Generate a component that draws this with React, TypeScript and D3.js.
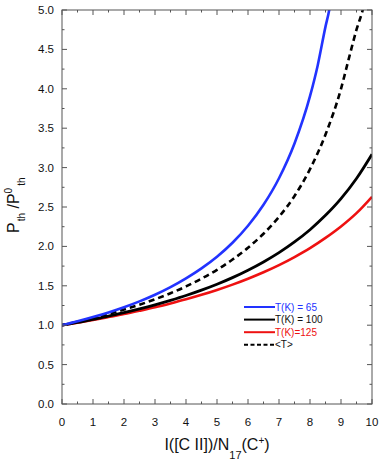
import * as d3 from 'd3';

// values
const XS = [0, 0.5, 1, 1.5, 2, 2.5, 3, 3.5, 4, 4.5, 5, 5.5, 6, 6.5, 7, 7.5, 8, 8.5, 9, 9.5, 10];
const T65 = [1.0, 1.049, 1.103, 1.162, 1.228, 1.302, 1.386, 1.483, 1.594, 1.721, 1.869, 2.046, 2.262, 2.528, 2.865, 3.306, 3.906, 4.789];
const T65_TAIL_X = [8.25, 8.5, 8.62, 8.75];
const T65_TAIL = [4.3, 4.789, 5.0, 5.35];
const T100 = [1.0, 1.035, 1.074, 1.114, 1.159, 1.207, 1.259, 1.316, 1.377, 1.445, 1.52, 1.604, 1.698, 1.803, 1.921, 2.057, 2.212, 2.394, 2.606, 2.862, 3.17];
const T125 = [1.0, 1.032, 1.066, 1.103, 1.141, 1.183, 1.227, 1.276, 1.328, 1.385, 1.447, 1.515, 1.59, 1.672, 1.763, 1.865, 1.978, 2.108, 2.253, 2.422, 2.63];
const TAVG_X = [0, 0.5, 1, 1.5, 2, 2.5, 3, 3.5, 4, 4.5, 5, 5.5, 6, 6.5, 7, 7.5, 8, 8.5, 9, 9.25, 9.5, 9.7, 9.85];
const TAVG = [1.0, 1.043, 1.09, 1.142, 1.198, 1.26, 1.329, 1.406, 1.492, 1.591, 1.703, 1.833, 1.983, 2.161, 2.375, 2.64, 2.98, 3.42, 4.0, 4.38, 4.75, 5.0, 5.25];

const X_TICKS = [0, 1, 2, 3, 4, 5, 6, 7, 8, 9, 10];
const Y_TICKS = [0, 0.5, 1, 1.5, 2, 2.5, 3, 3.5, 4, 4.5, 5];

const LEGEND = [
  { label: 'T(K) = 65', color: '#2233ff', dash: null },
  { label: 'T(K) = 100', color: '#000000', dash: null },
  { label: 'T(K)=125', color: '#ee1111', dash: null },
  { label: '<T>', color: '#000000', dash: '4,2.5' },
];

const W = 382;
const H = 463;
const M = { top: 10, right: 10, bottom: 59, left: 62 };
const FONT = '"Liberation Sans", Arial, Helvetica, sans-serif';
const AXIS = '#555';

export default function App() {
  const x = d3.scaleLinear().domain([0, 10]).range([M.left, W - M.right]);
  const y = d3.scaleLinear().domain([0, 5]).range([H - M.bottom, M.top]);

  const line = d3
    .line<[number, number]>()
    .x((d) => x(d[0]))
    .y((d) => y(d[1]))
    .curve(d3.curveMonotoneX);

  const blue = line(
    XS.slice(0, T65.length).map((v, i) => [v, T65[i]] as [number, number])
      .filter((d) => d[0] < 8.25)
      .concat(T65_TAIL_X.map((v, i) => [v, T65_TAIL[i]] as [number, number]))
  );
  const black = line(XS.map((v, i) => [v, T100[i]] as [number, number]));
  const red = line(XS.map((v, i) => [v, T125[i]] as [number, number]));
  const avg = line(TAVG_X.map((v, i) => [v, TAVG[i]] as [number, number]));

  const [x0, x1] = x.range();
  const [y0, y1] = y.range();
  const xMinor = d3.range(0, 10.01, 0.5).filter((v) => v % 1 !== 0);
  const yMinor = d3.range(0, 5.01, 0.25).filter((v) => Math.abs(v * 2 - Math.round(v * 2)) > 0.01);

  const lx = 244;
  const ly = 307;

  return (
    <svg width={W} height={H} style={{ position: 'absolute', left: 0, top: 0 }} fontFamily={FONT}>
      <defs>
        <clipPath id="plot">
          <rect x={x0} y={y1} width={x1 - x0} height={y0 - y1} />
        </clipPath>
      </defs>
      <rect width={W} height={H} fill="#fff" />

      <g clipPath="url(#plot)" fill="none" strokeLinecap="butt">
        <path d={red ?? ''} stroke="#ee1111" strokeWidth={2.6} />
        <path d={black ?? ''} stroke="#000" strokeWidth={2.8} />
        <path d={avg ?? ''} stroke="#000" strokeWidth={2.6} strokeDasharray="6,4" />
        <path d={blue ?? ''} stroke="#2233ff" strokeWidth={2.6} />
      </g>

      {/* ticks inside the frame, mirrored on top and right */}
      <g stroke={AXIS} strokeWidth={1}>
        {X_TICKS.map((t) => (
          <g key={'xt' + t}>
            <line x1={x(t)} x2={x(t)} y1={y0} y2={y0 - 5} />
            <line x1={x(t)} x2={x(t)} y1={y1} y2={y1 + 5} />
          </g>
        ))}
        {xMinor.map((t) => (
          <g key={'xm' + t}>
            <line x1={x(t)} x2={x(t)} y1={y0} y2={y0 - 2.5} />
            <line x1={x(t)} x2={x(t)} y1={y1} y2={y1 + 2.5} />
          </g>
        ))}
        {Y_TICKS.map((t) => (
          <g key={'yt' + t}>
            <line x1={x0} x2={x0 + 5} y1={y(t)} y2={y(t)} />
            <line x1={x1} x2={x1 - 5} y1={y(t)} y2={y(t)} />
          </g>
        ))}
        {yMinor.map((t) => (
          <g key={'ym' + t}>
            <line x1={x0} x2={x0 + 2.5} y1={y(t)} y2={y(t)} />
            <line x1={x1} x2={x1 - 2.5} y1={y(t)} y2={y(t)} />
          </g>
        ))}
        <rect x={x0} y={y1} width={x1 - x0} height={y0 - y1} fill="none" />
      </g>

      <g fontSize={11.5} fill="#111">
        {X_TICKS.map((t) => (
          <text key={'xl' + t} x={x(t)} y={y0 + 22} textAnchor="middle">
            {t}
          </text>
        ))}
        {Y_TICKS.map((t) => (
          <text key={'yl' + t} x={x0 - 8} y={y(t) + 4} textAnchor="end">
            {d3.format('.1f')(t)}
          </text>
        ))}
      </g>

      <text x={(x0 + x1) / 2} y={450} textAnchor="middle" fontSize={16} fill="#111">
        I([C II])/N
        <tspan fontSize={11} dy={9}>17</tspan>
        <tspan dy={-9}>(C</tspan>
        <tspan fontSize={10} dy={-6}>+</tspan>
        <tspan dy={6}>)</tspan>
      </text>

      <text
        transform="translate(19, 233) rotate(-90)"
        textAnchor="start"
        fontSize={16}
        fill="#111"
      >
        P<tspan fontSize={10} dy={6} dx={1}>th</tspan>
        <tspan dy={-6}> /P</tspan>
        <tspan fontSize={10} dy={-7}>0</tspan>
        <tspan fontSize={10} dy={13} dx={2}>th</tspan>
      </text>

      <g fontSize={10}>
        {LEGEND.map((d, i) => (
          <g key={d.label} transform={`translate(${lx}, ${ly + i * 12.6})`}>
            <line x1={0} x2={31} y1={0} y2={0} stroke={d.color} strokeWidth={2} strokeDasharray={d.dash ?? undefined} />
            <text x={31} y={3.6} fill={d.color === '#000000' ? '#111' : d.color}>
              {d.label}
            </text>
          </g>
        ))}
      </g>
    </svg>
  );
}
